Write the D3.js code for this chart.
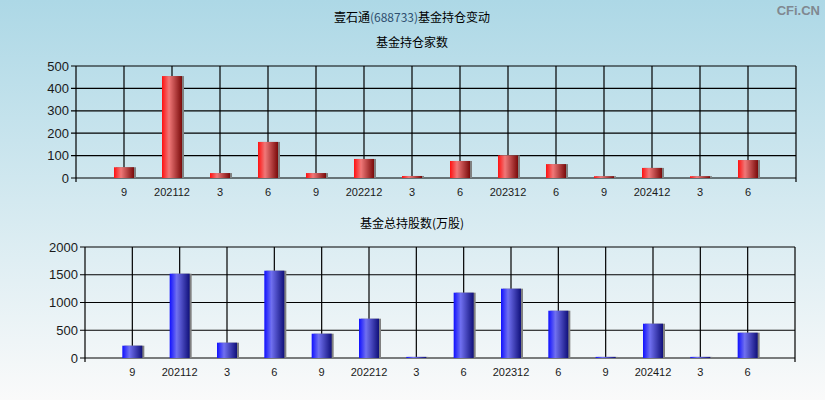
<!DOCTYPE html>
<html><head><meta charset="utf-8">
<script src="https://cdn.jsdelivr.net/npm/d3@7/dist/d3.min.js"></script>
<style>body{margin:0;padding:0;}svg{display:block;}</style>
</head><body>
<script>
const categories = ["9","202112","3","6","9","202212","3","6","202312","6","9","202412","3","6"];
const fundCount = [48,455,22,161,22,85,9,76,101,62,8,45,8,80];
const fundShares = [222,1519,276,1573,438,708,20,1177,1249,852,20,618,20,456];
const countTicks = [0,100,200,300,400,500];
const shareTicks = [0,500,1000,1500,2000];

const W=825,H=400;
const svg=d3.select("body").append("svg").attr("width",W).attr("height",H);
const defs=svg.append("defs");
const bg=defs.append("linearGradient").attr("id","bg").attr("x1",0).attr("y1",0).attr("x2",0).attr("y2",1);
bg.append("stop").attr("offset","0%").attr("stop-color","#add8e6");
bg.append("stop").attr("offset","100%").attr("stop-color","#fafafa");
svg.append("rect").attr("width",W).attr("height",H).attr("fill","url(#bg)");

function grad(id,c1,c2,c3){
  const g=defs.append("linearGradient").attr("id",id).attr("x1",0).attr("y1",0).attr("x2",1).attr("y2",0);
  g.append("stop").attr("offset","0%").attr("stop-color",c1);
  g.append("stop").attr("offset","35%").attr("stop-color",c2);
  g.append("stop").attr("offset","100%").attr("stop-color",c3);
}
grad("gr","#ff1010","#f07878","#7a0a0a");
grad("gb","#1010ff","#7070f0","#10107a");

const font="'Noto Sans CJK SC', 'Liberation Sans', sans-serif";
svg.append("text").attr("x",412).attr("y",22).attr("text-anchor","middle").attr("font-family",font).attr("font-size",12).attr("fill","#000")
  .call(t=>{t.append("tspan").text("壹石通");t.append("tspan").attr("fill","#2f4f6f").text("(688733)");t.append("tspan").text("基金持仓变动");});
svg.append("text").attr("x",820).attr("y",15).attr("text-anchor","end").attr("font-family","'Liberation Sans', sans-serif").attr("font-weight","bold").attr("font-size",13).attr("fill","#808890").text("CFi.CN");

function panel(opts){
  const {left,right,top,bottom,data,ticks,max,fill,title,titleY}=opts;
  svg.append("text").attr("x",412).attr("y",titleY).attr("text-anchor","middle").attr("font-family",font).attr("font-size",12).attr("fill","#000").text(title);
  const x=d3.scalePoint().domain(d3.range(categories.length)).range([left,right]).padding(1);
  const y=d3.scaleLinear().domain([0,max]).range([bottom,top]);
  const g=svg.append("g");
  g.selectAll(".hg").data(ticks).join("line").attr("x1",left-5).attr("x2",right).attr("y1",d=>y(d)).attr("y2",d=>y(d)).attr("stroke","#000").attr("stroke-width",1.2);
  g.selectAll(".vg").data(d3.range(categories.length)).join("line").attr("x1",d=>x(d)).attr("x2",d=>x(d)).attr("y1",top).attr("y2",bottom).attr("stroke","#000").attr("stroke-width",1.2);
  g.append("line").attr("x1",left).attr("x2",left).attr("y1",top).attr("y2",bottom+4).attr("stroke","#000").attr("stroke-width",1.2);
  g.append("line").attr("x1",right).attr("x2",right).attr("y1",top).attr("y2",bottom+4).attr("stroke","#000").attr("stroke-width",1.2);
  const bw=20;
  g.selectAll(".sh").data(data).join("rect").attr("x",(d,i)=>x(i)-bw/2+2).attr("width",bw).attr("y",d=>y(d)).attr("height",d=>bottom-y(d)).attr("fill","#808080");
  g.selectAll(".bar").data(data).join("rect").attr("x",(d,i)=>x(i)-bw/2).attr("width",bw).attr("y",d=>y(d)).attr("height",d=>bottom-y(d)).attr("fill",fill);
  g.selectAll(".yl").data(ticks).join("text").attr("x",left-7).attr("y",d=>y(d)+4.5).attr("text-anchor","end").attr("font-family","'Liberation Sans', sans-serif").attr("font-size",13).attr("fill","#1a1a1a").text(d=>d);
  g.selectAll(".xl").data(categories).join("text").attr("x",(d,i)=>x(i)).attr("y",bottom+18).attr("text-anchor","middle").attr("font-family","'Liberation Sans', sans-serif").attr("font-size",11).attr("fill","#1a1a1a").text(d=>d);
}
panel({left:76,right:796,top:66,bottom:178,data:fundCount,ticks:countTicks,max:500,fill:"url(#gr)",title:"基金持仓家数",titleY:47});
panel({left:85,right:795,top:247,bottom:358,data:fundShares,ticks:shareTicks,max:2000,fill:"url(#gb)",title:"基金总持股数(万股)",titleY:228});
</script>
</body></html>
